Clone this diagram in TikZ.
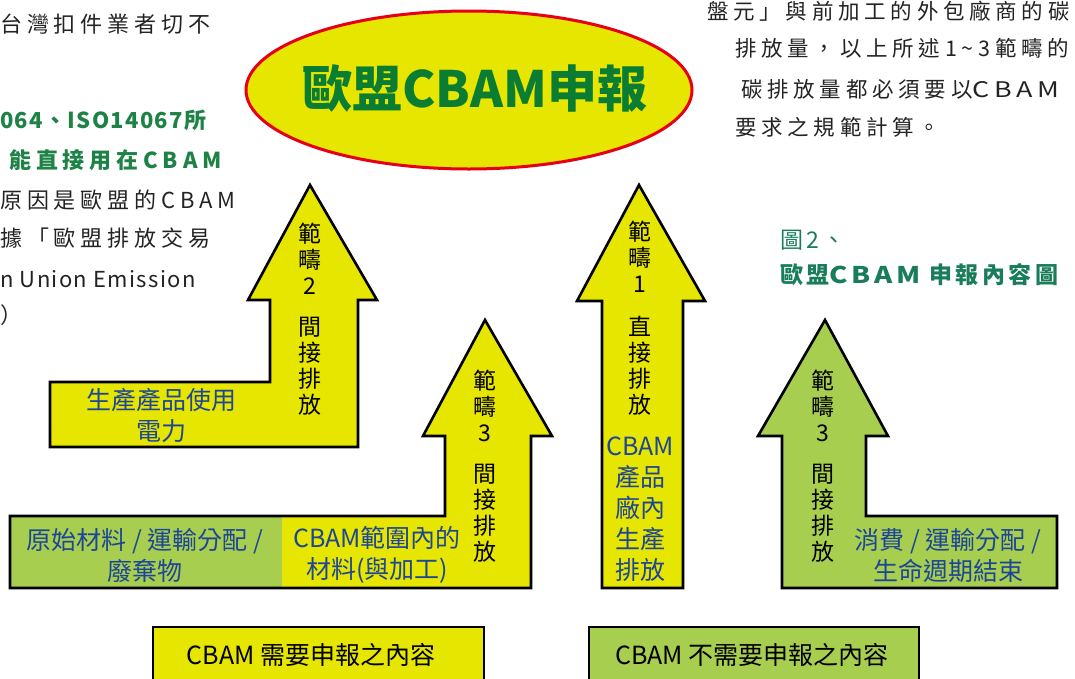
\documentclass[tikz,border=0pt]{standalone}
\usepackage{fontspec}
\setmainfont{Noto Sans CJK TC}
\newfontfamily\spacedfont{Noto Sans CJK TC}[LetterSpace=22]
\newfontfamily\tightfont{Noto Sans CJK TC}[LetterSpace=6]
\newfontfamily\titlefont{Noto Sans CJK TC}[LetterSpace=15]
\definecolor{yfill}{RGB}{230,230,0}
\definecolor{gfill}{RGB}{168,206,80}
\definecolor{blueT}{RGB}{30,70,150}
\definecolor{titleG}{RGB}{10,125,50}
\definecolor{tealG}{RGB}{25,125,90}
\definecolor{leftG}{RGB}{30,130,70}
\definecolor{grayT}{RGB}{35,35,35}
\definecolor{redE}{RGB}{230,0,18}
\newcommand{\wideCBAM}[2]{{\addfontfeature{FakeStretch=#1, LetterSpace=#2}CBAM}}
\tikzset{
  arrowY/.style={fill=yfill, draw=black, line width=2.6pt, line join=miter},
  arrowG/.style={fill=gfill, draw=black, line width=2.6pt, line join=miter},
  vlab/.style={align=center, inner sep=0pt, text=black, font=\fontsize{23}{26}\selectfont},
  blab/.style={align=center, inner sep=0pt, text=blueT, font=\fontsize{25}{31}\selectfont},
  para/.style={inner sep=0pt, text=grayT, font=\spacedfont\fontsize{22}{40}\selectfont},
  parar/.style={inner sep=0pt, text=grayT, font=\spacedfont\fontsize{21.5}{40}\selectfont},
  paratight/.style={inner sep=0pt, text=grayT, font=\tightfont\fontsize{22}{40}\selectfont},
  parag/.style={inner sep=0pt, text=leftG, font=\spacedfont\bfseries\fontsize{22}{40}\selectfont},
  paragtight/.style={inner sep=0pt, text=leftG, font=\tightfont\bfseries\fontsize{22}{40}\selectfont},
  legend/.style={inner sep=0pt, text=black, font=\fontsize{25}{28}\selectfont},
}
\begin{document}
\begin{tikzpicture}[x=1pt, y=-1pt]
\useasboundingbox (0,0) rectangle (1075,678);
\clip (0,0) rectangle (1075,678);

% ---- left paragraph fragments ----
\node[para, anchor=west] (p1) at (0,24) {台灣扣件業者切不};
\node[paragtight, anchor=west] (p2) at (0,120) {064、ISO14067所};
\node[parag, anchor=west] (p3) at (9,160) {能直接用在CBAM};
\node[para, anchor=west] (p4) at (0,200) {原因是歐盟的CBAM};
\node[para, anchor=west] (p5) at (0,238) {據「歐盟排放交易};
\node[paratight, anchor=west] (p6) at (0,279) {n Union Emission};
\node[paratight, anchor=west] (p7) at (0,315) {）};

% ---- right paragraph ----
\node[parar, anchor=west] (r1) at (707,11) {盤元」與前加工的外包廠商的碳};
\node[parar, anchor=west] (r2) at (735,48) {排放量，以上所述1\textasciitilde3範疇的};
\node[parar, anchor=west] (r3) at (741,89) {碳排放量都必須要以\wideCBAM{1.25}{22}};
\node[parar, anchor=west] (r4) at (735,127) {要求之規範計算。};

% ---- figure caption ----
\node[inner sep=0pt, anchor=west, text=tealG, font=\titlefont\fontsize{23}{26}\selectfont] (cap1) at (780,240) {圖2、};
\node[inner sep=0pt, anchor=west, text=tealG, font=\titlefont\bfseries\fontsize{23}{26}\selectfont] (cap2) at (780,275) {歐盟\wideCBAM{1.2}{16} 申報內容圖};

% ---- ellipse ----
\draw[fill=yfill, draw=redE, line width=3pt] (469,90) ellipse [x radius=223, y radius=79];
\node[inner sep=0pt, text=titleG, font=\bfseries\fontsize{50}{52}\selectfont] (title) at (475,88) {歐盟CBAM申報};

% ---- scope 2 arrow ----
\draw[arrowY] (50,382) -- (270,382) -- (270,300) -- (248,300) -- (310,185) -- (377,300) -- (358,300) -- (358,447) -- (50,447) -- cycle;
\node[vlab] (s2a) at (310,259) {範\\疇\\2};
\node[vlab] (s2b) at (310,366) {間\\接\\排\\放};
\node[blab] (s2c) at (161,415) {生產產品使用\\電力};

% ---- scope 3 (middle) arrow ----
\fill[yfill] (10,516) -- (445,516) -- (445,436) -- (423,436) -- (485,320) -- (552,436) -- (531,436) -- (531,588) -- (10,588) -- cycle;
\fill[gfill] (10,516) rectangle (282,588);
\draw[arrowY, fill=none] (10,516) -- (445,516) -- (445,436) -- (423,436) -- (485,320) -- (552,436) -- (531,436) -- (531,588) -- (10,588) -- cycle;
\node[vlab] (s3a) at (485,406) {範\\疇\\3};
\node[vlab] (s3b) at (485,513) {間\\接\\排\\放};
\node[blab] (s3c) at (145,555) {原始材料 / 運輸分配 /\\廢棄物};
\node[blab] (s3d) at (377,555) {CBAM範圍內的\\材料(與加工)};

% ---- scope 1 arrow ----
\draw[arrowY] (602,588) -- (602,301) -- (577,301) -- (639,185) -- (705,301) -- (683,301) -- (683,588) -- cycle;
\node[vlab] (s1a) at (640,257) {範\\疇\\1};
\node[vlab] (s1b) at (640,366) {直\\接\\排\\放};
\node[blab] (s1c) at (640,509) {CBAM\\產品\\廠內\\生產\\排放};

% ---- scope 3 (right) arrow ----
\draw[arrowG] (782,588) -- (782,436) -- (758,436) -- (825,320) -- (888,436) -- (866,436) -- (866,516) -- (1057,516) -- (1057,588) -- cycle;
\node[vlab] (s4a) at (823,406) {範\\疇\\3};
\node[vlab] (s4b) at (823,513) {間\\接\\排\\放};
\node[blab] (s4c) at (948,555) {消費 / 運輸分配 /\\生命週期結束};

% ---- legend boxes ----
\draw[arrowY, line width=2.2pt] (153,627) rectangle (484,700);
\node[legend] (l1) at (311,655) {CBAM 需要申報之內容};
\draw[arrowG, line width=2.2pt] (589,627) rectangle (919,700);
\node[legend] (l2) at (752,655) {CBAM 不需要申報之內容};
\end{tikzpicture}
\end{document}
